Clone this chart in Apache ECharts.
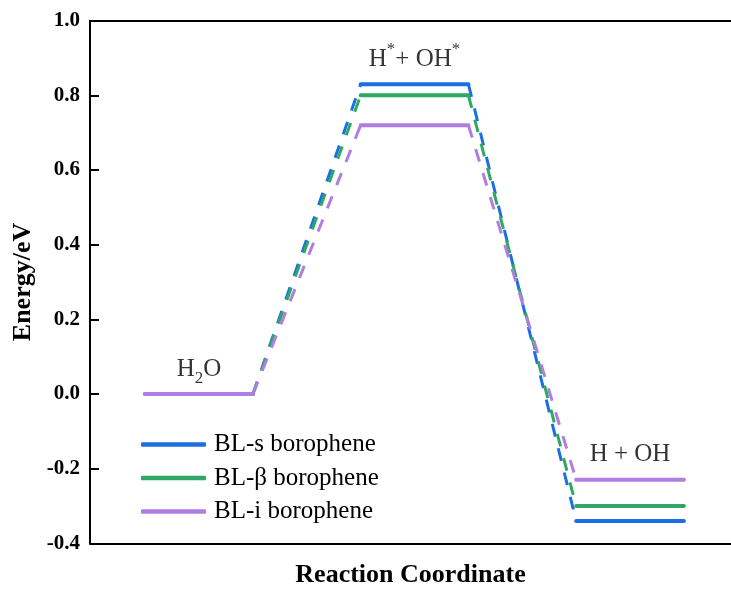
<!DOCTYPE html>
<html>
<head>
<meta charset="utf-8">
<script src="https://cdn.jsdelivr.net/npm/echarts@6/dist/echarts.min.js"></script>
<style>
html,body{margin:0;padding:0;background:#fff;}
#chart{width:731px;height:589px;}
</style>
</head>
<body>
<div id="chart"></div>
<script>
// ---- data ----
const stateX = [1, 2, 3];                       // reaction coordinate positions
const stateLabels = ['H2O', 'H*+ OH*', 'H + OH'];
const seriesNames = ['BL-s borophene', 'BL-\u03b2 borophene', 'BL-i borophene'];
const blVals = {
  s:    [0, 0.83, -0.34],
  beta: [0, 0.80, -0.30],
  i:    [0, 0.72, -0.23]
};
const yTicks = [-0.4, -0.2, 0.0, 0.2, 0.4, 0.6, 0.8, 1.0];

// ---- style ----
const colors = ['#1c6fe2', '#2fa864', '#b07de2'];
const hw = 0.25;
const FONT = 'Liberation Serif';

function levelData(vals) {
  const d = [];
  vals.forEach((v, i) => {
    d.push([stateX[i] - hw, v], [stateX[i] + hw, v]);
    if (i < vals.length - 1) d.push(['-', '-']);
  });
  return d;
}
function connData(vals) {
  const d = [];
  for (let i = 0; i < vals.length - 1; i++) {
    d.push([stateX[i] + hw, vals[i]], [stateX[i + 1] - hw, vals[i + 1]]);
    if (i < vals.length - 2) d.push(['-', '-']);
  }
  return d;
}
const allVals = [blVals.s, blVals.beta, blVals.i];

const series = [];
allVals.forEach((vals, k) => {
  series.push({
    name: seriesNames[k] + ' conn', type: 'line', data: connData(vals),
    symbol: 'none', silent: true, z: 2 + k,
    lineStyle: { color: colors[k], width: 3, type: [13, 12], cap: 'butt' },
    itemStyle: { color: colors[k] }
  });
});
allVals.forEach((vals, k) => {
  series.push({
    name: seriesNames[k], type: 'line', data: levelData(vals),
    symbol: 'none', silent: true, z: 5 + k,
    lineStyle: { color: colors[k], width: 4, cap: 'round' },
    itemStyle: { color: colors[k] }
  });
});
const richFmt = ['H{sub|2}O', 'H{sup|*}+ OH{sup|*}', 'H + OH'];
series.push({
  name: 'labels', type: 'scatter', symbolSize: 0, silent: true, z: 10,
  data: stateX.map((x, i) => ({
    value: [x, Math.max(...allVals.map(a => a[i]))],
    label: { formatter: richFmt[i] }
  })),
  label: {
    show: true, position: 'top', distance: 7,
    color: '#000', fontFamily: FONT, fontSize: 25, lineHeight: 36,
    rich: {
      sub: { fontFamily: FONT, fontSize: 17, lineHeight: 15, verticalAlign: 'bottom', color: '#000' },
      sup: { fontFamily: FONT, fontSize: 17, lineHeight: 17, verticalAlign: 'top', color: '#000' }
    }
  },
  emphasis: { disabled: true }
});

const option = {
  animation: false,
  backgroundColor: '#fff',
  grid: { left: 90, right: 0, top: 20.7, bottom: 45.7, containLabel: false, outerBoundsMode: 'none' },
  legend: {
    data: seriesNames,
    orient: 'vertical', left: 136, top: 426,
    icon: 'roundRect',
    itemWidth: 65, itemHeight: 4.5, itemGap: 6.5,
    textStyle: { fontFamily: FONT, fontSize: 25, color: '#000', lineHeight: 27, padding: [0, 0, 0, 3] }
  },
  xAxis: [{
    type: 'value', min: 0.494, max: 3.4685,
    name: 'Reaction Coordinate', nameLocation: 'middle', nameGap: 19,
    nameTextStyle: { fontFamily: FONT, fontWeight: 'bold', fontSize: 26, color: '#000' },
    axisLine: { show: true, onZero: false, lineStyle: { color: '#000', width: 2 } },
    axisTick: { show: false }, axisLabel: { show: false }, splitLine: { show: false }
  }, {
    type: 'value', position: 'top', min: 0.494, max: 3.4685,
    axisLine: { show: true, onZero: false, lineStyle: { color: '#000', width: 2 } },
    axisTick: { show: false }, axisLabel: { show: false }, splitLine: { show: false }
  }],
  yAxis: {
    type: 'value', min: -0.4, max: 1.0, interval: 0.2,
    name: 'Energy/eV', nameLocation: 'middle', nameGap: 50,
    nameTextStyle: { fontFamily: FONT, fontWeight: 'bold', fontSize: 26, color: '#000' },
    axisLine: { show: true, onZero: false, lineStyle: { color: '#000', width: 2 } },
    axisTick: { show: true, inside: true, length: 9, lineStyle: { color: '#000', width: 2 } },
    axisLabel: {
      margin: 10, fontFamily: FONT, fontWeight: 'bold', fontSize: 21, color: '#000',
      formatter: v => yTicks.reduce((a, t) => Math.abs(t - v) < 1e-9 ? t.toFixed(1) : a, v.toFixed(1))
    },
    splitLine: { show: false }
  },
  series: series
};
const chart = echarts.init(document.getElementById('chart'), null, { renderer: 'canvas' });
chart.setOption(option);
</script>
</body>
</html>
